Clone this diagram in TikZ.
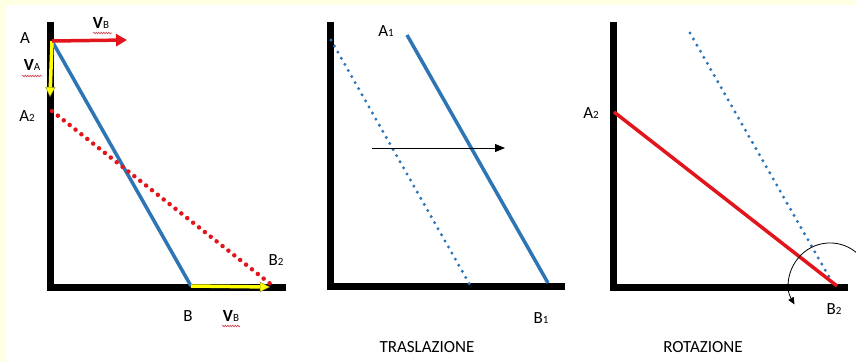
\documentclass[tikz,border=0pt]{standalone}
\usepackage{fontspec}
\setmainfont{Carlito}
\usetikzlibrary{arrows.meta,decorations.pathmorphing}
\definecolor{cream}{HTML}{FFFFE4}
\definecolor{lblue}{HTML}{2E75B6}
\definecolor{lred}{HTML}{E3151C}
\definecolor{lyel}{HTML}{FFFF00}
\definecolor{squig}{HTML}{D04050}
\definecolor{yedge}{HTML}{8A8A30}
\newcommand{\subsc}[1]{\raisebox{-0.5pt}{\fontsize{11}{11}\selectfont #1}}
\begin{document}
\begin{tikzpicture}[x=1pt,y=-1pt,
  axisline/.style={line width=7pt,line join=miter,line cap=butt,black},
  bluebar/.style={line width=3.5pt,lblue},
  redbar/.style={line width=3.5pt,lred},
  bluedots/.style={line width=3.3pt,lblue,line cap=round,dash pattern=on 0pt off 7pt},
  reddots/.style={line width=4.5pt,lred,line cap=round,dash pattern=on 0pt off 7.5pt},
  redarrow/.style={line width=3.5pt,lred,-{Triangle[length=11pt,width=12pt]}},
  yelarrow/.style={line width=3.5pt,lyel,-{Triangle[length=10pt,width=10pt,fill=lyel,color=yedge,line width=0.4pt]}},
  thinarrow/.style={line width=1pt,black,-{Triangle[length=10pt,width=8pt]}},
  lbl/.style={font=\fontsize{17}{17}\selectfont,inner sep=0pt},
  ttl/.style={font=\fontsize{17}{17}\selectfont,inner sep=0pt},
  squiggle/.style={squig,line width=0.6pt,decorate,decoration={snake,amplitude=0.8pt,segment length=2.5pt}}
]
\path[use as bounding box] (0,0) rectangle (856,362);
\fill[cream] (0,0) rectangle (856,362);
\fill[white] (6,5) rectangle (856,362);

% ---------- panel 1 ----------
\coordinate (ax1t) at (50,22);
\coordinate (ax1o) at (50,287);
\coordinate (ax1r) at (286,287);
\draw[axisline] (ax1t) -- (ax1o) -- (ax1r);
\coordinate (A) at (52,41);
\coordinate (B) at (191,286);
\coordinate (A2) at (52,111);
\coordinate (B2) at (273,286);
\coordinate (VBtip) at (127,40);
\coordinate (VAtip) at (50,97);
\coordinate (VBtip2) at (270,287);
\draw[bluebar] (A) -- (B);
\draw[reddots] (A2) -- (B2);
\draw[yelarrow] (A) -- (VAtip);
\draw[yelarrow] (B) -- (VBtip2);
\draw[redarrow] (A) -- (VBtip);
\node[lbl] (lA) at (25,38) {A};
\node[lbl] (lA2) at (27,116) {A\subsc{2}};
\node[lbl] (lB2) at (276,260) {B\subsc{2}};
\node[lbl] (lB) at (188,316) {B};
\node[lbl] (lVB) at (101,23) {\textbf{V}\subsc{B}};
\node[lbl] (lVA) at (32,65) {\textbf{V}\subsc{A}};
\node[lbl] (lVB2) at (231,316) {\textbf{V}\subsc{B}};
\draw[squiggle] (93,33) -- (112,33);
\draw[squiggle] (22,76) -- (42,76);
\draw[squiggle] (222,326) -- (240,326);

% ---------- panel 2 ----------
\coordinate (ax2t) at (330,22);
\coordinate (ax2o) at (330,286);
\coordinate (ax2r) at (565,286);
\draw[axisline] (ax2t) -- (ax2o) -- (ax2r);
\coordinate (A0) at (331,40);
\coordinate (B0) at (470,285);
\coordinate (A1) at (407,35);
\coordinate (B1) at (548,283);
\draw[bluedots] (A0) -- (B0);
\draw[bluebar] (A1) -- (B1);
\coordinate (tr1) at (372,148);
\coordinate (tr2) at (505,148);
\draw[thinarrow] (tr1) -- (tr2);
\node[lbl] (lA1) at (386,31) {A\subsc{1}};
\node[lbl] (lB1) at (541,318) {B\subsc{1}};
\node[ttl] (t2) at (427,347) {TRASLAZIONE};

% ---------- panel 3 ----------
\coordinate (ax3t) at (613,22);
\coordinate (ax3o) at (613,287);
\coordinate (ax3r) at (848,287);
\draw[axisline] (ax3t) -- (ax3o) -- (ax3r);
\coordinate (A2r) at (614,112);
\coordinate (B2r) at (837,286);
\coordinate (Ad) at (690,33);
\coordinate (Bd) at (832,282);
\draw[bluedots] (Ad) -- (Bd);
\draw[redbar] (A2r) -- (B2r);
\begin{scope}
\clip (0,0) rectangle (856,362);
\draw[line width=0.8pt,black,-{Triangle[length=7pt,width=6pt]}] (861.4,257.6) arc[start angle=-40,end angle=-210,radius=41];
\end{scope}
\node[lbl] (lA2r) at (591,113) {A\subsc{2}};
\node[lbl] (lB2r) at (834,309) {B\subsc{2}};
\node[ttl] (t3) at (703,347) {ROTAZIONE};
\end{tikzpicture}
\end{document}
